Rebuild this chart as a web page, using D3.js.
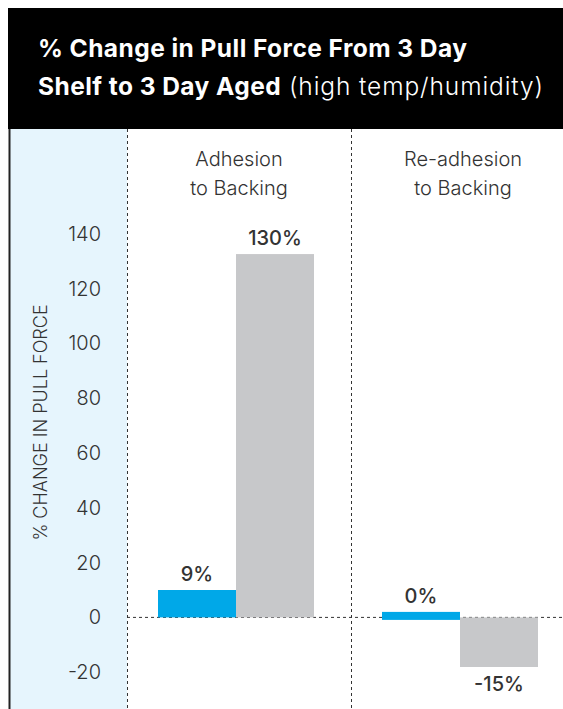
<!DOCTYPE html>
<html>
<head>
<meta charset="utf-8">
<script src="https://cdn.jsdelivr.net/npm/d3@7"></script>
<style>
  html, body { margin: 0; padding: 0; background: #fff; }
  svg { display: block; font-family: Inter, "Noto Sans", sans-serif; }
</style>
</head>
<body>
<svg id="chart" width="563" height="709"></svg>
<script>
// ---- data ----
const groups = ["Adhesion to Backing", "Re-adhesion to Backing"];
const groupLines = [["Adhesion", "to Backing"], ["Re-adhesion", "to Backing"]];
const series = ["Product A", "Product B"];
const seriesColors = ["#00a8e8", "#c7c8ca"];
// bar heights as plotted in the reference (per group: [series A, series B])
const adhesionValues = [10, 132.6];
const readhesionValues = [0, -18.1];
// printed data labels
const adhesionLabels = ["9%", "130%"];
const readhesionLabels = ["0%", "-15%"];
const yTicks = [-20, 0, 20, 40, 60, 80, 100, 120, 140];
const yTitle = "% CHANGE IN PULL FORCE";
const titleLine1 = "% Change in Pull Force From 3 Day";
const titleLine2Bold = "Shelf to 3 Day Aged";
const titleLine2Light = " (high temp/humidity)";

const rows = [];
groups.forEach((g, gi) => {
  const vals = gi === 0 ? adhesionValues : readhesionValues;
  const labs = gi === 0 ? adhesionLabels : readhesionLabels;
  series.forEach((s, si) => rows.push({ group: g, series: s, value: vals[si], label: labs[si], color: seriesColors[si] }));
});

const svg = d3.select("#chart");
const W = 563, H = 709;

// header
svg.append("rect").attr("x", 8).attr("y", 8).attr("width", W - 8).attr("height", 121).attr("fill", "#000");
const t = svg.append("text").attr("fill", "#fff").attr("font-size", 24.5).attr("letter-spacing", 0.45);
t.append("tspan").attr("x", 38).attr("y", 57).attr("font-weight", 700).text(titleLine1);
const t2 = svg.append("text").attr("fill", "#fff").attr("font-size", 24.5).attr("x", 38).attr("y", 95);
t2.append("tspan").attr("font-weight", 700).attr("letter-spacing", 0.45).text(titleLine2Bold);
t2.append("tspan").attr("font-weight", 300).attr("letter-spacing", 0.9).text(titleLine2Light);

// y-axis panel
svg.append("rect").attr("x", 10).attr("y", 129).attr("width", 117).attr("height", H - 129).attr("fill", "#e6f5fd");
svg.append("line").attr("x1", 9.5).attr("x2", 9.5).attr("y1", 129).attr("y2", H).attr("stroke", "#222").attr("stroke-width", 2);

// scales
const y = d3.scaleLinear().domain([-20, 140]).range([672.2, 233.8]);
const x0 = d3.scaleBand().domain(groups).range([127, 575]).padding(0);
const x1 = d3.scaleBand().domain(series).range([31, 187]).padding(0);

// zero line
svg.append("line").attr("x1", 127).attr("x2", W).attr("y1", y(0)).attr("y2", y(0))
  .attr("stroke", "#333").attr("stroke-width", 1).attr("stroke-dasharray", "3,3");

// group dividers
groups.forEach(g => {
  svg.append("line").attr("x1", x0(g) + 0.5).attr("x2", x0(g) + 0.5).attr("y1", 129).attr("y2", H)
    .attr("stroke", "#333").attr("stroke-width", 1).attr("stroke-dasharray", "3,3");
});

// group labels
groups.forEach((g, gi) => {
  const tx = svg.append("text").attr("text-anchor", "middle").attr("font-size", 20).attr("font-weight", 300).attr("fill", "#333");
  groupLines[gi].forEach((ln, li) => {
    tx.append("tspan").attr("x", x0(g) + x0.bandwidth() / 2).attr("y", 166 + li * 29).text(ln);
  });
});

// y axis
const yAxis = svg.append("g").attr("transform", "translate(101,0)")
  .call(d3.axisLeft(y).tickValues(yTicks).tickSize(0).tickPadding(0).tickFormat(d => String(d)));
yAxis.select(".domain").remove();
yAxis.selectAll("text").attr("font-size", 20).attr("font-weight", 300).attr("fill", "#333")
  .attr("font-family", "Inter, 'Noto Sans', sans-serif");

// y title
svg.append("text").attr("transform", `translate(47,${422.5}) rotate(-90)`)
  .attr("text-anchor", "middle").attr("font-size", 18).attr("font-weight", 300).attr("fill", "#333")
  .text(yTitle);

// bars
const barG = svg.append("g");
barG.selectAll("rect").data(rows).join("rect")
  .attr("x", d => x0(d.group) + x1(d.series))
  .attr("width", x1.bandwidth())
  .attr("y", d => d.value === 0 ? y(0) - 5.5 : Math.min(y(d.value), y(0)))
  .attr("height", d => d.value === 0 ? 8 : Math.abs(y(d.value) - y(0)))
  .attr("fill", d => d.color);

// data labels
barG.selectAll("text").data(rows).join("text")
  .attr("x", d => x0(d.group) + x1(d.series) + x1.bandwidth() / 2)
  .attr("y", d => d.value === 0 ? y(0) - 14.5 : d.value > 0 ? y(d.value) - 9 : y(d.value) + 24)
  .attr("text-anchor", "middle").attr("font-size", 20).attr("font-weight", 500).attr("fill", "#333")
  .text(d => d.label);
</script>
</body>
</html>
